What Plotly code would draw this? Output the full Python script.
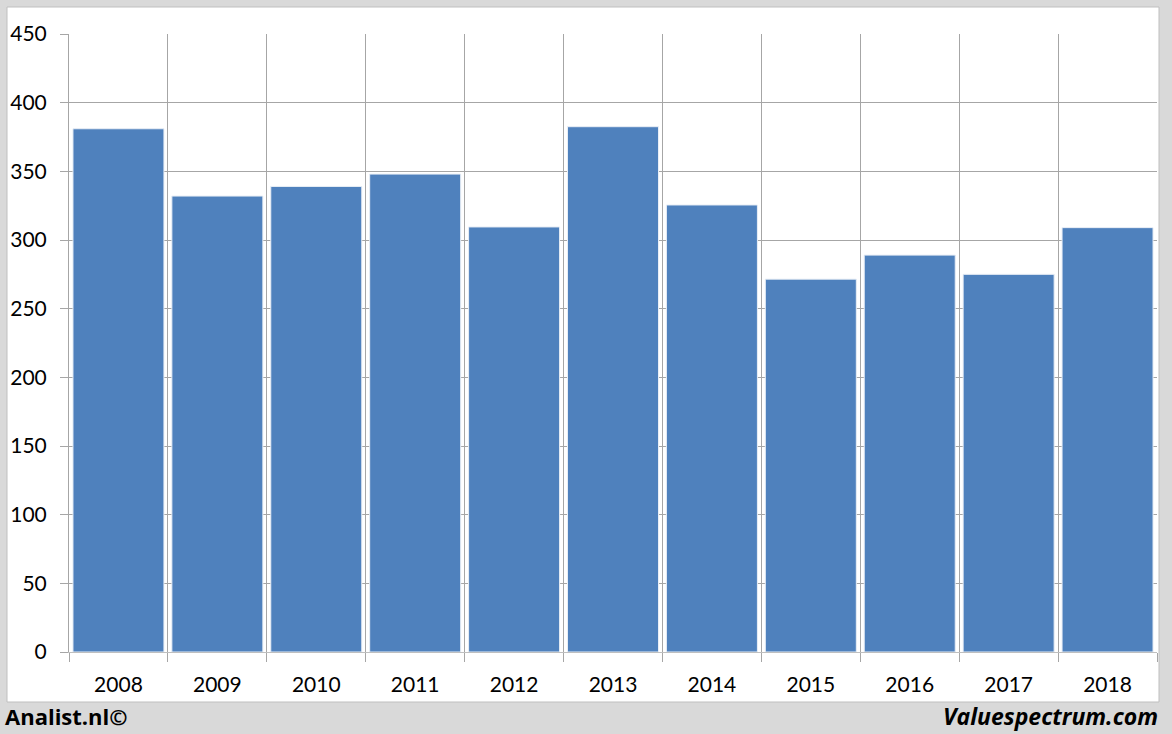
import plotly.graph_objects as go

years = ["2008", "2009", "2010", "2011", "2012", "2013", "2014", "2015", "2016", "2017", "2018"]
values = [381, 332, 339, 348, 309.5, 382.5, 325.5, 271.5, 289, 275, 309]
y_ticks = [0, 50, 100, 150, 200, 250, 300, 350, 400, 450]

W, H = 1172, 734
L, R, T, B = 69, 1157, 34, 652
pw, ph = R - L, B - T

def px(x):
    return (x - L) / pw

def py(y):
    return (B - y) / ph

FONT = "Lato, 'Open Sans', sans-serif"
FOOT = "'Open Sans', sans-serif"
GRID = "#a6a6a6"

fig = go.Figure()
fig.add_trace(go.Bar(
    x=years, y=values,
    marker=dict(color="#4f81bd", line=dict(color="#e8eef6", width=1)),
    hoverinfo="x+y",
))

fig.update_layout(
    width=W, height=H,
    margin=dict(l=L, r=W - R, t=T, b=H - B, pad=0, autoexpand=False),
    paper_bgcolor="#d9d9d9",
    plot_bgcolor="white",
    bargap=0.08,
    showlegend=False,
    font=dict(family=FONT, size=21, color="black"),
    shapes=[dict(
        type="rect", xref="paper", yref="paper", layer="below",
        x0=px(7), x1=px(1159), y0=py(702), y1=py(7),
        fillcolor="white", line=dict(color="#bfbfbf", width=1),
    )],
    annotations=[
        dict(text="<b>Analist.nl©</b>", xref="paper", yref="paper",
             x=px(3), y=py(716), xanchor="left", yanchor="middle",
             showarrow=False, font=dict(family=FOOT, size=22, color="black")),
        dict(text="<b><i>Valuespectrum.com</i></b>", xref="paper", yref="paper",
             x=px(1160), y=py(716), xanchor="right", yanchor="middle",
             showarrow=False, font=dict(family=FOOT, size=23, color="black")),
    ],
)

fig.update_xaxes(
    type="category", tickson="boundaries", automargin=False,
    showgrid=True, gridcolor=GRID, gridwidth=1,
    ticks="outside", ticklen=9, tickcolor=GRID,
    showline=True, linecolor="#bfbfbf", linewidth=1,
    ticklabelstandoff=14,
    tickfont=dict(family=FONT, size=21, color="black"),
)
fig.update_yaxes(
    range=[0, 450], tickvals=y_ticks, ticktext=[str(v) for v in y_ticks],
    automargin=False,
    showgrid=True, gridcolor=GRID, gridwidth=1, zeroline=False,
    ticks="outside", ticklen=8, tickcolor=GRID,
    showline=True, linecolor=GRID, linewidth=1,
    ticklabelstandoff=9,
    tickfont=dict(family=FONT, size=21, color="black"),
)

fig.write_html(
    "out.html",
    config={"displayModeBar": False},
    post_script="document.body.style.margin='0';document.body.style.overflow='hidden';",
)
